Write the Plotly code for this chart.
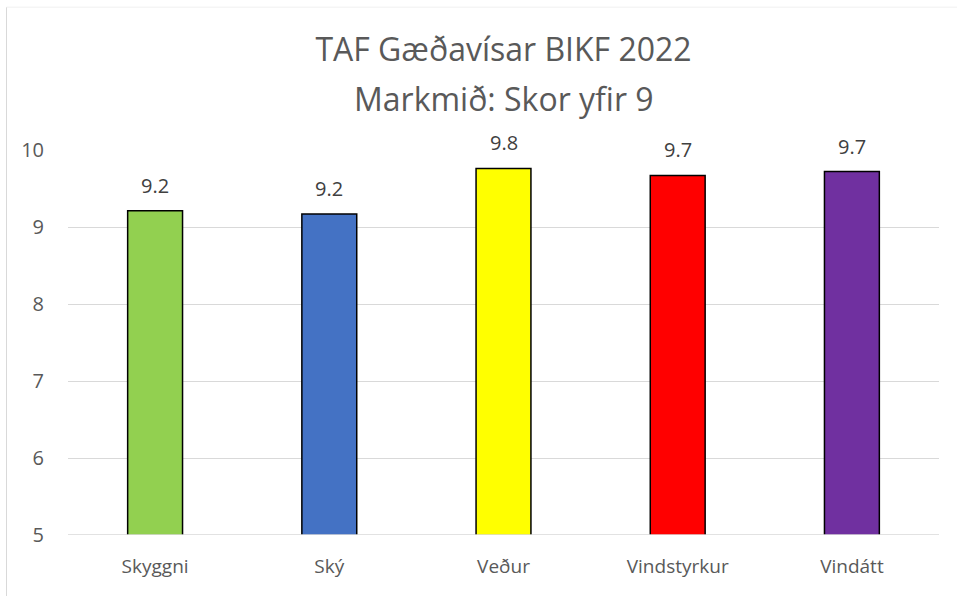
import plotly.graph_objects as go

categories = ["Skyggni", "Ský", "Veður", "Vindstyrkur", "Vindátt"]
values = [9.21, 9.17, 9.76, 9.67, 9.72]
labels = ["9.2", "9.2", "9.8", "9.7", "9.7"]
colors = ["#92D050", "#4472C4", "#FFFF00", "#FF0000", "#7030A0"]
y_ticks = [5, 6, 7, 8, 9, 10]
title_line1 = "TAF Gæðavísar BIKF 2022"
title_line2 = "Markmið: Skor yfir 9"

FONT = "Open Sans"
GREY = "#595959"

fig = go.Figure()
fig.add_trace(go.Bar(
    x=categories, y=values,
    marker=dict(color=colors, line=dict(color="#000000", width=1.5)),
    width=0.315,
    hoverinfo="x+y",
))

for c, v, t in zip(categories, values, labels):
    fig.add_annotation(x=c, y=v, text=t, showarrow=False, yanchor="bottom",
                       yshift=10, font=dict(family=FONT, size=20, color="#404040"))

fig.add_annotation(xref="paper", yref="paper", x=0.5, y=1.135, text=title_line2,
                   showarrow=False, xanchor="center", yanchor="middle",
                   font=dict(family=FONT, size=32, color=GREY))

fig.update_layout(
    width=957, height=596,
    margin=dict(l=68, r=18, t=150, b=61),
    paper_bgcolor="white", plot_bgcolor="white",
    title=dict(text=title_line1, x=0.5, xref="paper", xanchor="center",
               yref="container", y=1 - 50 / 596, yanchor="middle",
               font=dict(family=FONT, size=32, color=GREY)),
    showlegend=False,
    bargap=0.685,
    xaxis=dict(showgrid=False, showline=False, ticks="",
               tickfont=dict(family=FONT, size=19, color=GREY),
               ticklabelstandoff=18),
    yaxis=dict(range=[5, 10], tickvals=y_ticks, showgrid=True, gridcolor="#D9D9D9",
               gridwidth=1.3, zeroline=False, showline=False, ticks="",
               tickfont=dict(family=FONT, size=20, color=GREY),
               ticklabelstandoff=23),
    shapes=[
        dict(type="line", xref="paper", yref="y", x0=0, x1=1, y0=5, y1=5,
             line=dict(color="#D9D9D9", width=1.3)),
        dict(type="line", xref="paper", yref="paper", x0=-0.0706, x1=-0.0706,
             y0=-0.16, y1=1.371, line=dict(color="#D9D9D9", width=1)),
        dict(type="line", xref="paper", yref="paper", x0=-0.0706, x1=1.03,
             y0=1.371, y1=1.371, line=dict(color="#F0F0F0", width=1)),
    ],
)

fig.write_html("out.html", config={"displayModeBar": False},
               post_script="document.body.style.margin='0';")
